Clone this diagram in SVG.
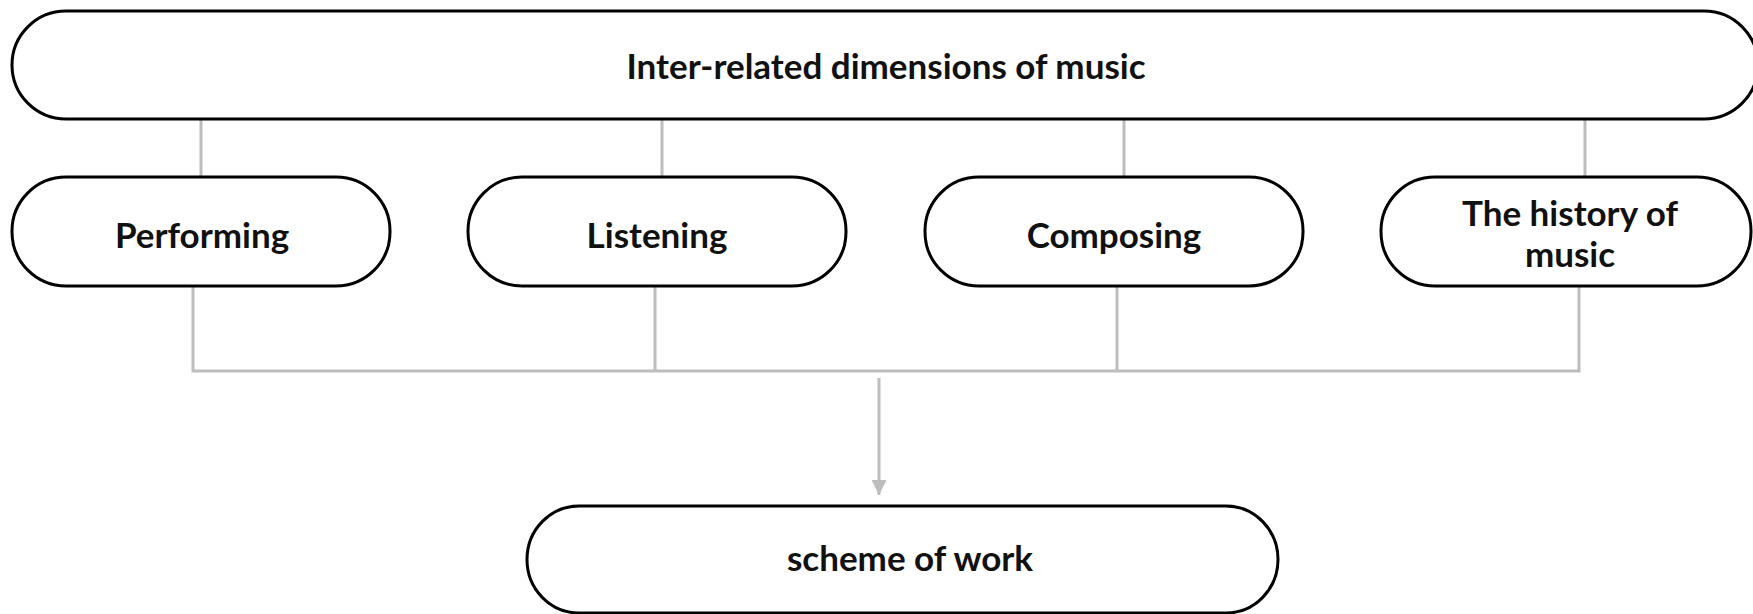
<svg xmlns="http://www.w3.org/2000/svg" width="1753" height="614" viewBox="0 0 1753 614">
<defs>
<style>
.node{fill:#fff;stroke:#000;stroke-width:3}
.lbl{font-family:Lato,"Liberation Sans",sans-serif;font-weight:bold;font-size:35px;fill:#111;text-anchor:middle}
.con{fill:none;stroke:#bdbdbd;stroke-width:3}
</style>
<marker id="ah" viewBox="0 0 10 10" refX="10" refY="5" markerWidth="5" markerHeight="5" markerUnits="strokeWidth" orient="auto">
<path d="M0,0 L10,5 L0,10 z" fill="#bdbdbd"/>
</marker>
</defs>
<rect width="1753" height="614" fill="#fff"/>
<g id="connectors">
<line class="con" x1="201" y1="120" x2="201" y2="177"/>
<line class="con" x1="662" y1="120" x2="662" y2="177"/>
<line class="con" x1="1124" y1="120" x2="1124" y2="177"/>
<line class="con" x1="1585" y1="120" x2="1585" y2="177"/>
<path class="con" d="M193,286 V371 H1579 V286 M655,286 V371 M1117,286 V371"/>
<line class="con" x1="879" y1="378" x2="879" y2="495" marker-end="url(#ah)"/>
</g>
<g id="top">
<rect class="node" x="12" y="11" width="1746" height="108" rx="54" ry="54"/>
<text class="lbl" x="886" y="79">Inter-related dimensions of music</text>
</g>
<g id="performing">
<rect class="node" x="12" y="177" width="378" height="109" rx="54" ry="54"/>
<text class="lbl" x="202" y="248">Performing</text>
</g>
<g id="listening">
<rect class="node" x="468" y="177" width="378" height="109" rx="54" ry="54"/>
<text class="lbl" x="657" y="248">Listening</text>
</g>
<g id="composing">
<rect class="node" x="925" y="177" width="378" height="109" rx="54" ry="54"/>
<text class="lbl" x="1114" y="248">Composing</text>
</g>
<g id="history">
<rect class="node" x="1381" y="177" width="370" height="109" rx="54" ry="54"/>
<text class="lbl" x="1570" y="226">The history of</text>
<text class="lbl" x="1570" y="267">music</text>
</g>
<g id="scheme">
<rect class="node" x="527" y="506" width="751" height="107" rx="52" ry="54"/>
<text class="lbl" x="910" y="571">scheme of work</text>
</g>
</svg>
